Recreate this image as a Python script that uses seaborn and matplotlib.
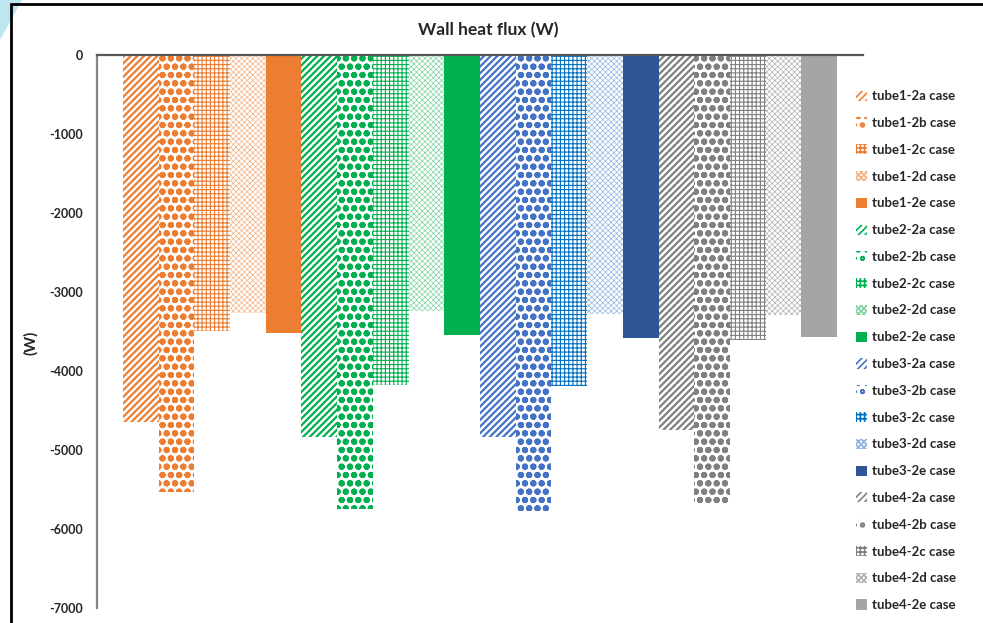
import matplotlib
matplotlib.use("Agg")
import matplotlib.pyplot as plt
import matplotlib.patches as mpatches
import seaborn as sns
import pandas as pd

cases = ["tube1-2a case", "tube1-2b case", "tube1-2c case", "tube1-2d case", "tube1-2e case",
         "tube2-2a case", "tube2-2b case", "tube2-2c case", "tube2-2d case", "tube2-2e case",
         "tube3-2a case", "tube3-2b case", "tube3-2c case", "tube3-2d case", "tube3-2e case",
         "tube4-2a case", "tube4-2b case", "tube4-2c case", "tube4-2d case", "tube4-2e case"]
heat_flux = [-4650, -5530, -3490, -3265, -3520,
             -4835, -5750, -4180, -3240, -3545,
             -4835, -5770, -4190, -3280, -3580,
             -4745, -5680, -3610, -3290, -3570]
colors = ["#ED7D31", "#ED7D31", "#ED7D31", "#F4B183", "#ED7D31",
          "#00B050", "#00B050", "#00B050", "#7FD3A0", "#00B050",
          "#4472C4", "#4472C4", "#0070C0", "#8FB4E3", "#2F5597",
          "#808080", "#808080", "#808080", "#B0B0B0", "#A5A5A5"]
hatches = ["/////", "oo", "++++", "xxxxxx", "",
           "/////", "oo", "++++", "xxxxxx", "",
           "/////", "oo", "++++", "xxxxxx", "",
           "/////", "oo", "++++", "xxxxxx", ""]
yticks = [0, -1000, -2000, -3000, -4000, -5000, -6000, -7000]

HATCH_LW = {"/////": 1.6, "oo": 2.1, "++++": 0.8, "xxxxxx": 0.5, "": 1.0}

sns.set_style("white")
plt.rcParams["font.family"] = ["Lato", "DejaVu Sans"]
plt.rcParams["hatch.linewidth"] = 1.2

df = pd.DataFrame({"case": cases, "flux": heat_flux})

fig = plt.figure(figsize=(9.83, 6.23), dpi=100)
ax = fig.add_axes([97 / 983, 1 - 608 / 623, (863 - 97) / 983, (608 - 55) / 623])

sns.barplot(data=df, x="case", y="flux", hue="case", palette=colors,
            width=1.0, legend=False, ax=ax, saturation=1)


def style_patch(p, c, h):
    if h:
        p.set_facecolor("white")
        p.set_edgecolor(c)
        p.set_hatch(h)
    else:
        p.set_facecolor(c)
        p.set_edgecolor(c)
    p.set_linewidth(0)
    if hasattr(p, "set_hatch_linewidth"):
        p.set_hatch_linewidth(HATCH_LW[h])


bars = sorted(ax.patches, key=lambda p: p.get_x())
for p, c, h in zip(bars, colors, hatches):
    style_patch(p, c, h)

ax.set_xlim(-1.228, 20.228)
ax.set_ylim(-7000, 0)
ax.set_xticks([])
ax.set_xlabel("")
ax.set_yticks(yticks)
ax.set_yticklabels([str(v) for v in yticks], fontsize=9, fontweight="bold")
ax.tick_params(axis="y", length=0, pad=10)
ax.set_ylabel("(W)", fontsize=11, fontweight="bold")
ax.yaxis.set_label_coords((38 - 97) / 766, 0.48)
for s in ["bottom", "right"]:
    ax.spines[s].set_visible(False)
ax.spines["top"].set_color("#595959")
ax.spines["top"].set_linewidth(1.6)
ax.spines["left"].set_color("#868686")
ax.spines["left"].set_linewidth(1.6)

fig.text(488 / 983, 1 - 30 / 623, "Wall heat flux (W)", ha="center", va="center",
         fontsize=12.5, fontweight="bold")

handles = []
for c, h in zip(colors, hatches):
    hp = mpatches.Patch(label=None)
    style_patch(hp, c, h)
    handles.append(hp)
leg = fig.legend(handles, cases, loc="upper left", bbox_to_anchor=(851 / 983, 1 - 85 / 623),
                 frameon=False, prop={"size": 9.5, "weight": "bold"}, labelspacing=1.12,
                 handlelength=0.8, handleheight=0.8, handletextpad=0.4, borderaxespad=0)

fig.patches.append(mpatches.Polygon([[0, 1], [22 / 983, 1], [0, 1 - 40 / 623]], closed=True,
                                    transform=fig.transFigure, facecolor="#BDE6F2",
                                    edgecolor="none", zorder=0))
fig.add_artist(plt.Line2D([11 / 983, 1], [1 - 4 / 623, 1 - 4 / 623], color="black", lw=2,
                          transform=fig.transFigure))
fig.add_artist(plt.Line2D([11 / 983, 11 / 983], [1 - 4 / 623, 0], color="black", lw=2,
                          transform=fig.transFigure))

fig.savefig("out.png", dpi=100)
